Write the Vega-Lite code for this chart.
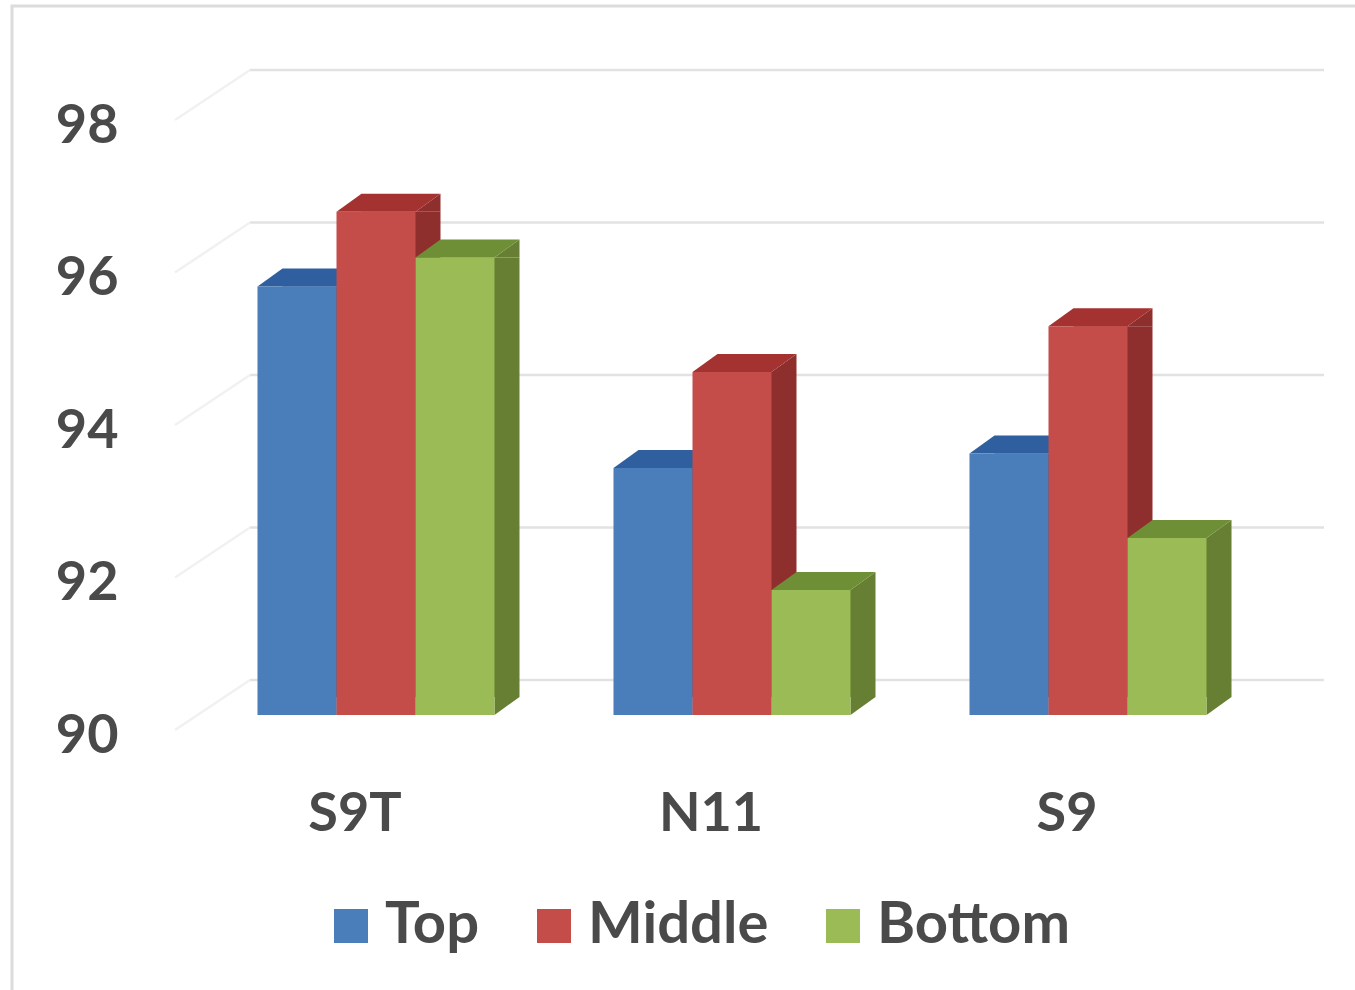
{
  "$schema": "https://vega.github.io/schema/vega-lite/v6.json",
  "width": 1350,
  "height": 992,
  "autosize": {"type": "none"},
  "padding": {"left": 12, "top": 6, "right": 0, "bottom": 0},
  "background": "white",
  "view": {"stroke": "#dcdcdc", "strokeWidth": 3, "fill": "white"},
  "config": {"font": "Lato"},
  "datasets": {
    "scores": [
      {"model": "S9T", "position": "Top", "score": 95.62},
      {"model": "S9T", "position": "Middle", "score": 96.6},
      {"model": "S9T", "position": "Bottom", "score": 96.0},
      {"model": "N11", "position": "Top", "score": 93.24},
      {"model": "N11", "position": "Middle", "score": 94.5},
      {"model": "N11", "position": "Bottom", "score": 91.64},
      {"model": "S9", "position": "Top", "score": 93.43},
      {"model": "S9", "position": "Middle", "score": 95.1},
      {"model": "S9", "position": "Bottom", "score": 92.32}
    ],
    "levels": [{"level": 90}, {"level": 92}, {"level": 94}, {"level": 96}, {"level": 98}]
  },
  "layer": [
    {
      "description": "Back wall gridlines",
      "data": {"name": "levels"},
      "mark": {"type": "point", "shape": "M-126,-35L948,-35", "size": 4, "filled": false, "stroke": "#e2e2e2", "strokeWidth": 2.5, "opacity": 1},
      "encoding": {
        "x": {
          "datum": "S9T",
          "type": "nominal",
          "sort": ["S9T", "N11", "S9"],
          "scale": {"domain": ["S9T", "N11", "S9"], "range": [186, 1254], "paddingInner": 0, "paddingOuter": 0},
          "axis": {
            "title": null,
            "domain": false,
            "ticks": false,
            "labelAngle": 0,
            "labelFont": "Lato",
            "labelFontWeight": "bold",
            "labelFontSize": 54,
            "labelColor": "#4a4a4a",
            "labelAlign": "center",
            "labelBaseline": "middle",
            "labelPadding": -184,
            "labelOffset": -21
          }
        },
        "y": {
          "field": "level",
          "type": "quantitative",
          "scale": {"domain": [90, 98], "range": [709, 99], "nice": false, "zero": false},
          "axis": {
            "title": null,
            "values": [90, 92, 94, 96, 98],
            "format": "d",
            "grid": false,
            "domain": false,
            "ticks": false,
            "labelFont": "Lato",
            "labelFontWeight": "bold",
            "labelFontSize": 54,
            "labelColor": "#4a4a4a",
            "labelAlign": "right",
            "labelBaseline": "middle",
            "labelPadding": -106,
            "labelOffset": 21
          }
        }
      }
    },
    {
      "description": "Side wall gridlines, running forward from the back wall",
      "data": {"name": "levels"},
      "mark": {"type": "point", "shape": "M-126,-35L-201,15", "size": 4, "filled": false, "stroke": "#f1f1f1", "strokeWidth": 2.5, "opacity": 1},
      "encoding": {
        "x": {"datum": "S9T", "type": "nominal"},
        "y": {"field": "level", "type": "quantitative"}
      }
    },
    {
      "description": "Right faces: a darker copy of each bar, pushed back and to the right",
      "data": {"name": "scores"},
      "mark": {"type": "bar", "y2Offset": -18},
      "encoding": {
        "x": {"field": "model", "type": "nominal", "sort": ["S9T", "N11", "S9"]},
        "xOffset": {
          "field": "position",
          "type": "nominal",
          "sort": ["Top", "Middle", "Bottom"],
          "scale": {"type": "band", "domain": ["Top", "Middle", "Bottom"], "range": [25, 381], "paddingInner": 0, "paddingOuter": 0.753}
        },
        "y": {"field": "score", "type": "quantitative"},
        "y2": {"datum": 90},
        "color": {
          "field": "position",
          "type": "nominal",
          "scale": {"domain": ["Top", "Middle", "Bottom"], "range": ["#2f5b97", "#8f2f2d", "#667f33"]},
          "legend": null
        }
      }
    },
    {
      "description": "Right faces, upper slanted edge",
      "data": {"name": "scores"},
      "mark": {"type": "point", "shape": "M39.5,0L64.5,-18L64.5,0Z", "size": 4, "filled": true, "opacity": 1, "strokeWidth": 0},
      "encoding": {
        "x": {"field": "model", "type": "nominal", "sort": ["S9T", "N11", "S9"]},
        "xOffset": {
          "field": "position",
          "type": "nominal",
          "sort": ["Top", "Middle", "Bottom"],
          "scale": {"type": "band", "domain": ["Top", "Middle", "Bottom"], "range": [0, 356], "paddingInner": 0, "paddingOuter": 0.753}
        },
        "y": {"field": "score", "type": "quantitative"},
        "color": {
          "field": "position",
          "type": "nominal",
          "scale": {"domain": ["Top", "Middle", "Bottom"], "range": ["#2f5b97", "#8f2f2d", "#667f33"]},
          "legend": null
        }
      }
    },
    {
      "description": "Right faces, lower slanted edge on the floor",
      "data": {"name": "scores"},
      "mark": {"type": "point", "shape": "M39.5,0L39.5,-18L64.5,-18Z", "size": 4, "filled": true, "opacity": 1, "strokeWidth": 0},
      "encoding": {
        "x": {"field": "model", "type": "nominal", "sort": ["S9T", "N11", "S9"]},
        "xOffset": {
          "field": "position",
          "type": "nominal",
          "sort": ["Top", "Middle", "Bottom"],
          "scale": {"type": "band", "domain": ["Top", "Middle", "Bottom"], "range": [0, 356], "paddingInner": 0, "paddingOuter": 0.753}
        },
        "y": {"datum": 90, "type": "quantitative"},
        "color": {
          "field": "position",
          "type": "nominal",
          "scale": {"domain": ["Top", "Middle", "Bottom"], "range": ["#2f5b97", "#8f2f2d", "#667f33"]},
          "legend": null
        }
      }
    },
    {
      "description": "Top faces",
      "data": {"name": "scores"},
      "mark": {"type": "point", "shape": "M-39.5,0L39.5,0L64.5,-18L-14.5,-18Z", "size": 4, "filled": true, "opacity": 1, "strokeWidth": 0},
      "encoding": {
        "x": {"field": "model", "type": "nominal", "sort": ["S9T", "N11", "S9"]},
        "xOffset": {
          "field": "position",
          "type": "nominal",
          "sort": ["Top", "Middle", "Bottom"],
          "scale": {"type": "band", "domain": ["Top", "Middle", "Bottom"], "range": [0, 356], "paddingInner": 0, "paddingOuter": 0.753}
        },
        "y": {"field": "score", "type": "quantitative"},
        "color": {
          "field": "position",
          "type": "nominal",
          "scale": {"domain": ["Top", "Middle", "Bottom"], "range": ["#2f5f9e", "#a33231", "#6f8f36"]},
          "legend": null
        }
      }
    },
    {
      "description": "Front faces",
      "data": {"name": "scores"},
      "mark": {"type": "bar"},
      "encoding": {
        "x": {"field": "model", "type": "nominal", "sort": ["S9T", "N11", "S9"]},
        "xOffset": {
          "field": "position",
          "type": "nominal",
          "sort": ["Top", "Middle", "Bottom"],
          "scale": {"type": "band", "domain": ["Top", "Middle", "Bottom"], "range": [0, 356], "paddingInner": 0, "paddingOuter": 0.753}
        },
        "y": {"field": "score", "type": "quantitative"},
        "y2": {"datum": 90},
        "color": {
          "field": "position",
          "type": "nominal",
          "scale": {"domain": ["Top", "Middle", "Bottom"], "range": ["#4a7ebb", "#c44d4a", "#9abb55"]},
          "legend": {
            "title": null,
            "orient": "none",
            "legendX": 310,
            "legendY": 891,
            "direction": "horizontal",
            "symbolType": "square",
            "symbolSize": 1156,
            "symbolStrokeWidth": 0,
            "labelFont": "Lato",
            "labelFontWeight": "bold",
            "labelFontSize": 58,
            "labelLimit": 400,
            "labelColor": "#4a4a4a",
            "labelOffset": 5,
            "columnPadding": 45
          }
        }
      }
    }
  ],
  "resolve": {"scale": {"color": "independent", "xOffset": "independent"}}
}
